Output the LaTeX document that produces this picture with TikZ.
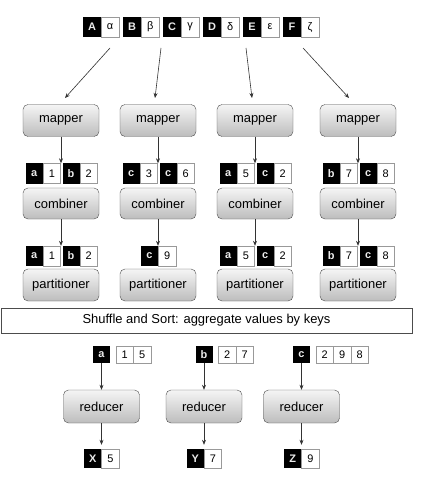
\documentclass[tikz,border=0pt]{standalone}
\usepackage{fontspec}
\setmainfont{Liberation Sans}
\usetikzlibrary{arrows.meta}
\usetikzlibrary{positioning}
\usetikzlibrary{calc}

\begin{document}
\begin{tikzpicture}[x=1bp,y=-1bp,
    task/.style={draw=black!70, rounded corners=5bp, top color=black!4, bottom color=black!26,
      minimum width=76bp, minimum height=32bp, inner sep=0pt, font=\fontsize{13}{15}\selectfont},
    key/.style={fill=black, text=black!8, minimum width=17bp, minimum height=20bp, inner sep=0pt,
      font=\fontsize{11}{13}\selectfont\bfseries},
    val/.style={draw=black!40, fill=white, minimum width=17.5bp, minimum height=20bp, inner sep=0pt,
      font=\fontsize{11}{13}\selectfont},
    flow/.style={-{Stealth[length=5bp,width=4bp]}, draw=black!80, line width=0.6bp}]
  \useasboundingbox (0,0) rectangle (430,480);

  % draw input pairs
  \foreach \k/\v [count=\i] in {A/α, B/β, C/γ, D/δ, E/ε, F/ζ} {
    \node[key, minimum width=18bp] (in\i) at (52+40*\i,27) {\k};
    \node[val, right=0bp of in\i] (iv\i) {\v};
  }
  % split arrows
  \coordinate (s1) at (110,48); \coordinate (e1) at (65,98);
  \coordinate (s2) at (161,48); \coordinate (e2) at (155,98);
  \coordinate (s3) at (246,48); \coordinate (e3) at (252,98);
  \coordinate (s4) at (303,48); \coordinate (e4) at (349,98);
  \foreach \i in {1,...,4}
    \draw[flow] (s\i) -- (e\i);

  % draw map side
  \foreach \x [count=\i] in {61,158,255,358} {
    \node[task] (m\i) at (\x,120.5) {mapper};
    \node[task, minimum height=31bp] (c\i) at (\x,203.5) {combiner};
    \node[task] (p\i) at (\x,285) {partitioner};
  }
  % mapper output
  \foreach \i/\x/\ka/\va/\kb/\vb in {1/61/a/1/b/2, 2/158/c/3/c/6, 3/255/a/5/c/2, 4/358/b/7/c/8} {
    \node[key] (ma\i) at (\x-26.75,173.5) {\ka};
    \node[val, right=0bp of ma\i] (mv\i) {\va};
    \node[key, right=1.5bp of mv\i] (mb\i) {\kb};
    \node[val, right=0bp of mb\i] (mw\i) {\vb};
    \draw[flow] (m\i) -- (m\i |- ma\i.north);
  }
  % combiner output
  \foreach \i/\x/\ka/\va/\kb/\vb in {1/61/a/1/b/2, 3/255/a/5/c/2, 4/358/b/7/c/8} {
    \node[key] (ca\i) at (\x-26.75,256) {\ka};
    \node[val, right=0bp of ca\i] (cv\i) {\va};
    \node[key, right=1.5bp of cv\i] (cb\i) {\kb};
    \node[val, right=0bp of cb\i] (cw\i) {\vb};
  }
  \node[key] (ca2) at (149.5,256) {c};
  \node[val, right=0bp of ca2] (cv2) {9};
  \foreach \i in {1,...,4}
    \draw[flow] (c\i) -- (c\i |- ca\i.north);

  % shuffle bar
  \node[draw=black!70, fill=white, minimum width=411bp, minimum height=25bp, inner sep=0pt,
    font=\fontsize{13}{15}\selectfont] (shuffle) at (206.5,320.5) {Shuffle and Sort: aggregate values by keys};

  % draw reduce side
  \foreach \i/\x/\k/\vals/\ok/\ov in {1/101.5/a/{1,5}/X/5, 2/204/b/{2,7}/Y/7, 3/301.5/c/{2,9,8}/Z/9} {
    \node[key, minimum height=17bp] (rk\i) at (\x,354.5) {\k};
    \foreach \v [count=\j] in \vals
      \node[val, minimum height=17bp] (rv\i-\j) at (\x+23.25+17.5*\j-17.5,354.5) {\v};
    \node[task, minimum height=33bp] (r\i) at (\x,406.5) {reducer};
    \node[key, minimum height=19bp] (ok\i) at (\x-8.75,458.5) {\ok};
    \node[val, minimum height=19bp, right=0bp of ok\i] (ov\i) {\ov};
    \draw[flow] (rk\i) -- (r\i);
    \draw[flow, shorten >=4bp] (r\i) -- (r\i |- ok\i.north);
  }
\end{tikzpicture}
\end{document}
